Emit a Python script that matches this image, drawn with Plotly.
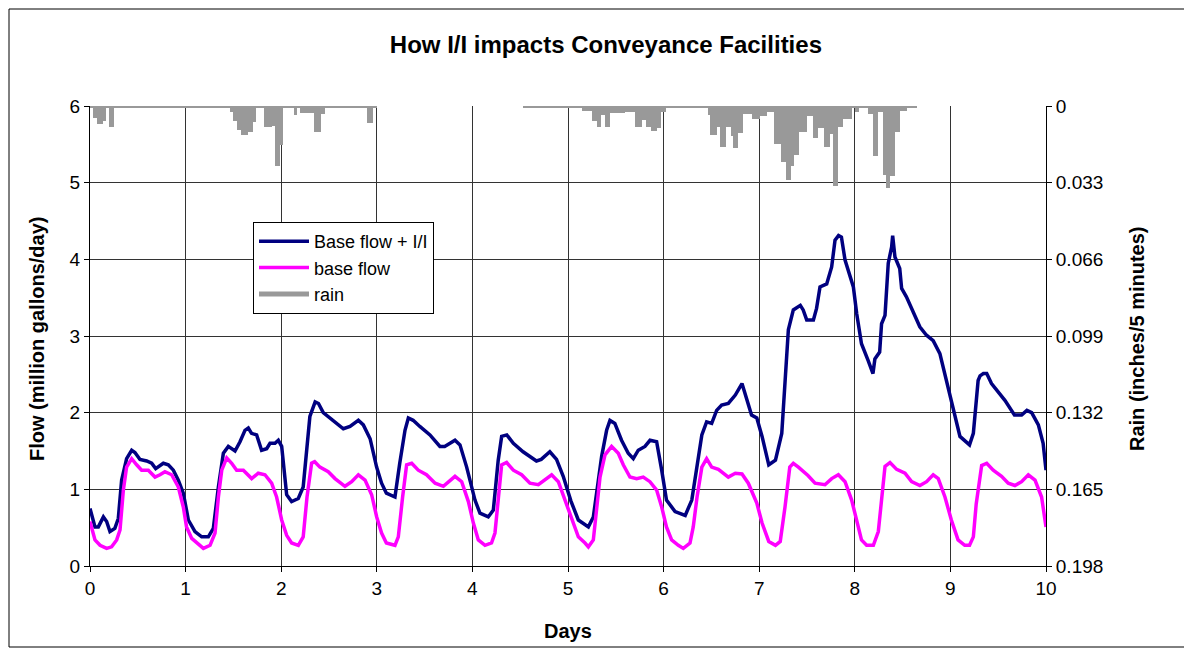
import plotly.graph_objects as go

# ---------------- data ----------------
flow_day = [0.0, 0.052, 0.087, 0.14, 0.174, 0.209, 0.26, 0.296, 0.331, 0.383, 0.436, 0.47, 0.523, 0.593, 0.645,
            0.687, 0.767, 0.819, 0.872, 0.924, 0.976, 1.029, 1.098, 1.168, 1.238, 1.29, 1.343, 1.395, 1.447, 1.517,
            1.569, 1.621, 1.656, 1.69, 1.743, 1.795, 1.848, 1.883, 1.935, 1.97, 2.005, 2.04, 2.057, 2.109, 2.179,
            2.23, 2.27, 2.30, 2.355, 2.39, 2.44, 2.545, 2.65, 2.72, 2.807, 2.859, 2.93, 2.998, 3.05, 3.10, 3.19,
            3.24, 3.295, 3.33, 3.38, 3.45, 3.556, 3.66, 3.71, 3.818, 3.87, 3.94, 4.027, 4.079, 4.166, 4.219, 4.27,
            4.306, 4.36, 4.428, 4.53, 4.67, 4.72, 4.81, 4.88, 4.95, 5.03, 5.108, 5.213, 5.265, 5.317, 5.352, 5.404,
            5.439, 5.49, 5.56, 5.63, 5.683, 5.735, 5.805, 5.858, 5.927, 5.98, 6.03, 6.12, 6.226, 6.295, 6.35, 6.40,
            6.45, 6.503, 6.555, 6.607, 6.677, 6.75, 6.82, 6.87, 6.92, 6.975, 7.03, 7.1, 7.17, 7.236, 7.27, 7.305,
            7.357, 7.43, 7.46, 7.497, 7.567, 7.60, 7.636, 7.706, 7.758, 7.793, 7.83, 7.86, 7.898, 7.985, 8.02, 8.07,
            8.14, 8.19, 8.21, 8.26, 8.28, 8.316, 8.35, 8.385, 8.396, 8.42, 8.47, 8.49, 8.54, 8.68, 8.75, 8.82, 8.89,
            8.96, 9.05, 9.1, 9.2, 9.24, 9.29, 9.31, 9.345, 9.38, 9.43, 9.57, 9.67, 9.745, 9.8, 9.85, 9.92, 9.97, 10.0]
flow_total = [0.75, 0.51, 0.51, 0.64, 0.58, 0.45, 0.49, 0.62, 1.12, 1.40, 1.51, 1.48, 1.39, 1.37, 1.34,
              1.27, 1.34, 1.32, 1.25, 1.12, 0.95, 0.60, 0.45, 0.38, 0.38, 0.49, 1.03, 1.47, 1.56, 1.50,
              1.62, 1.77, 1.80, 1.73, 1.71, 1.51, 1.53, 1.60, 1.60, 1.64, 1.56, 1.12, 0.93, 0.84, 0.88,
              1.03, 1.56, 1.95, 2.14, 2.12, 2.00, 1.90, 1.79, 1.82, 1.90, 1.84, 1.66, 1.29, 1.08, 0.95, 0.90,
              1.34, 1.77, 1.93, 1.90, 1.82, 1.71, 1.56, 1.56, 1.64, 1.58, 1.29, 0.86, 0.69, 0.64, 0.73, 1.38,
              1.69, 1.71, 1.60, 1.49, 1.37, 1.39, 1.49, 1.39, 1.17, 0.85, 0.60, 0.51, 0.64, 1.08, 1.43, 1.77,
              1.90, 1.86, 1.64, 1.47, 1.40, 1.51, 1.56, 1.64, 1.62, 1.25, 0.86, 0.71, 0.66, 0.86, 1.30, 1.71,
              1.88, 1.86, 2.03, 2.10, 2.12, 2.23, 2.38, 2.16, 1.97, 1.93, 1.69, 1.32, 1.38, 1.73, 2.42, 3.08,
              3.34, 3.40, 3.34, 3.21, 3.21, 3.36, 3.64, 3.68, 3.90, 4.25, 4.31, 4.29, 3.99, 3.64, 3.29, 2.90,
              2.68, 2.51, 2.70, 2.79, 3.16, 3.27, 3.95, 4.16, 4.31, 4.03, 3.88, 3.62, 3.51, 3.12, 3.01, 2.94, 2.77,
              2.42, 1.94, 1.69, 1.58, 1.73, 2.42, 2.48, 2.51, 2.51, 2.38, 2.16, 1.97, 1.97, 2.03, 2.00, 1.84, 1.60, 1.25]

base_day = [0.0, 0.052, 0.105, 0.174, 0.226, 0.279, 0.314, 0.349, 0.383, 0.436, 0.488, 0.54, 0.61, 0.68, 0.732,
            0.784, 0.854, 0.924, 0.976, 1.01, 1.064, 1.116, 1.186, 1.256, 1.308, 1.343, 1.378, 1.43, 1.482, 1.534,
            1.604, 1.691, 1.76, 1.83, 1.9, 1.952, 2.005, 2.057, 2.109, 2.179, 2.23, 2.27, 2.318, 2.35, 2.405,
            2.492, 2.563, 2.667, 2.737, 2.807, 2.877, 2.946, 2.999, 3.05, 3.10, 3.19, 3.225, 3.27, 3.312, 3.365,
            3.434, 3.52, 3.61, 3.696, 3.748, 3.818, 3.888, 3.958, 4.01, 4.062, 4.132, 4.2, 4.236, 4.27, 4.306,
            4.358, 4.428, 4.515, 4.602, 4.69, 4.76, 4.829, 4.899, 4.97, 5.038, 5.108, 5.178, 5.213, 5.265, 5.30,
            5.335, 5.387, 5.456, 5.526, 5.578, 5.648, 5.718, 5.787, 5.857, 5.927, 5.98, 6.03, 6.084, 6.154, 6.206,
            6.276, 6.31, 6.35, 6.40, 6.45, 6.503, 6.573, 6.677, 6.75, 6.82, 6.886, 6.975, 7.03, 7.10, 7.17, 7.22,
            7.27, 7.32, 7.357, 7.41, 7.51, 7.584, 7.688, 7.758, 7.828, 7.898, 7.967, 8.02, 8.07, 8.124, 8.194,
            8.246, 8.28, 8.316, 8.368, 8.438, 8.525, 8.594, 8.681, 8.751, 8.82, 8.873, 8.943, 9.01, 9.08, 9.15,
            9.2, 9.24, 9.27, 9.327, 9.38, 9.448, 9.535, 9.605, 9.675, 9.745, 9.815, 9.885, 9.954, 10.0]
base_flow = [0.58, 0.34, 0.27, 0.23, 0.25, 0.34, 0.47, 0.99, 1.29, 1.40, 1.32, 1.25, 1.25, 1.16, 1.19,
             1.23, 1.19, 1.03, 0.77, 0.51, 0.36, 0.30, 0.23, 0.27, 0.43, 0.90, 1.25, 1.41, 1.34, 1.25,
             1.25, 1.14, 1.21, 1.19, 1.08, 0.90, 0.60, 0.40, 0.30, 0.27, 0.38, 0.90, 1.34, 1.36, 1.29,
             1.23, 1.14, 1.04, 1.10, 1.19, 1.12, 0.93, 0.64, 0.43, 0.30, 0.27, 0.38, 0.90, 1.32, 1.34,
             1.25, 1.19, 1.08, 1.04, 1.10, 1.17, 1.10, 0.84, 0.56, 0.34, 0.27, 0.30, 0.43, 0.90, 1.32,
             1.35, 1.25, 1.19, 1.08, 1.06, 1.13, 1.19, 1.10, 0.86, 0.60, 0.38, 0.30, 0.25, 0.34, 0.73,
             1.16, 1.45, 1.56, 1.47, 1.32, 1.16, 1.14, 1.16, 1.10, 0.99, 0.77, 0.51, 0.34, 0.27, 0.23,
             0.30, 0.51, 0.90, 1.29, 1.40, 1.29, 1.26, 1.16, 1.21, 1.20, 1.08, 0.82, 0.56, 0.32, 0.27, 0.32,
             0.77, 1.29, 1.34, 1.29, 1.18, 1.08, 1.06, 1.14, 1.19, 1.10, 0.86, 0.60, 0.34, 0.27, 0.27,
             0.45, 0.86, 1.30, 1.35, 1.26, 1.21, 1.10, 1.05, 1.10, 1.19, 1.14, 0.90, 0.60, 0.34, 0.27,
             0.27, 0.38, 0.81, 1.31, 1.34, 1.25, 1.17, 1.08, 1.05, 1.10, 1.19, 1.12, 0.90, 0.51]

# rain intervals (start day, end day, inches per 5 minutes)
rain_start = [0.0, 4.53, 0.03, 0.07, 0.14, 0.20, 1.46, 1.50, 1.54, 1.58, 1.65, 1.70, 1.82, 1.90, 1.94, 1.99,
              2.13, 2.20, 2.34, 2.42, 2.90, 5.15, 5.25, 5.30, 5.35, 5.39, 5.44, 5.52, 5.60, 5.70, 5.77, 5.82,
              5.87, 5.93, 5.97, 6.47, 6.49, 6.56, 6.59, 6.65, 6.71, 6.73, 6.78, 6.83, 6.92, 7.01, 7.08, 7.15,
              7.23, 7.28, 7.33, 7.36, 7.42, 7.50, 7.56, 7.62, 7.68, 7.74, 7.77, 7.82, 7.88, 8.00, 8.14, 8.19,
              8.24, 8.30, 8.33, 8.37, 8.42, 8.47]
rain_end = [3.0, 8.65, 0.07, 0.14, 0.17, 0.25, 1.50, 1.54, 1.58, 1.65, 1.70, 1.74, 1.90, 1.94, 1.99, 2.02,
            2.16, 2.34, 2.42, 2.46, 2.96, 5.25, 5.30, 5.35, 5.39, 5.44, 5.52, 5.60, 5.70, 5.77, 5.82, 5.87,
            5.93, 5.97, 6.03, 6.49, 6.56, 6.59, 6.65, 6.71, 6.73, 6.78, 6.83, 6.92, 7.01, 7.08, 7.15, 7.23,
            7.28, 7.33, 7.36, 7.42, 7.50, 7.56, 7.62, 7.68, 7.74, 7.77, 7.82, 7.88, 7.97, 8.04, 8.19, 8.24,
            8.30, 8.33, 8.37, 8.42, 8.47, 8.55]
rain_in = [0.0006, 0.0006, 0.0053, 0.0077, 0.0066, 0.0089, 0.0025, 0.0066, 0.0105, 0.0125, 0.0110, 0.0070,
           0.0089, 0.0085, 0.0260, 0.0170, 0.0040, 0.0030, 0.0110, 0.0035, 0.0075, 0.0020, 0.0065, 0.0089,
           0.0040, 0.0089, 0.0030, 0.0030, 0.0025, 0.0089, 0.0060, 0.0089, 0.0108, 0.0095, 0.0025, 0.0040,
           0.0125, 0.0089, 0.0175, 0.0089, 0.0130, 0.0180, 0.0115, 0.0035, 0.0055, 0.0045, 0.0025, 0.0165,
           0.0240, 0.0320, 0.0260, 0.0210, 0.0110, 0.0045, 0.0138, 0.0095, 0.0175, 0.0120, 0.0343, 0.0089,
           0.0055, 0.0025, 0.0035, 0.0215, 0.0025, 0.0297, 0.0351, 0.0300, 0.0110, 0.0020]

rain_ticks = [0, 0.033, 0.066, 0.099, 0.132, 0.165, 0.198]
rain_tick_labels = ["0", "0.033", "0.066", "0.099", "0.132", "0.165", "0.198"]

# ---------------- figure ----------------
FONT = "Liberation Sans, Arial, sans-serif"
rain_mid = [(a + b) / 2 for a, b in zip(rain_start, rain_end)]
rain_w = [b - a for a, b in zip(rain_start, rain_end)]

fig = go.Figure()
fig.add_trace(go.Bar(x=rain_mid, y=rain_in, width=rain_w, yaxis="y2", name="rain",
                     marker=dict(color="#999999", line=dict(width=0)), showlegend=False))
fig.add_trace(go.Scatter(x=flow_day, y=flow_total, mode="lines", name="Base flow + I/I",
                         line=dict(color="#000080", width=3.5)))
fig.add_trace(go.Scatter(x=base_day, y=base_flow, mode="lines", name="base flow",
                         line=dict(color="#FF00FF", width=3.5)))
fig.add_trace(go.Scatter(x=[None], y=[None], mode="lines", name="rain",
                         line=dict(color="#999999", width=5)))

axis_common = dict(showline=True, linecolor="black", linewidth=1, ticks="outside", ticklen=5,
                   tickcolor="black", tickfont=dict(family=FONT, size=19, color="black"), zeroline=False)

# page body has an 8px default margin, so the figure is sized/offset to compensate
fig.update_layout(
    width=1184, height=646,
    margin=dict(l=82, r=146, t=98, b=88),
    paper_bgcolor="white", plot_bgcolor="white",
    font=dict(family=FONT, size=18, color="black"),
    title=dict(text="<b>How I/I impacts Conveyance Facilities</b>", x=0.505, xref="container",
               xanchor="center", y=1 - 37 / 646, yref="container", yanchor="middle",
               font=dict(family=FONT, size=24, color="black")),
    xaxis=dict(range=[0, 10], dtick=1, tick0=0, showgrid=True, gridcolor="#333333", gridwidth=1,
               **axis_common),
    yaxis=dict(range=[0, 6], dtick=1, tick0=0, showgrid=True, gridcolor="#333333", gridwidth=1,
               **axis_common),
    yaxis2=dict(overlaying="y", side="right", range=[0.198, 0], tickvals=rain_ticks,
                ticktext=rain_tick_labels, showgrid=False, **axis_common),
    bargap=0,
    legend=dict(x=(253 - 90) / 956, y=(566 - 222) / 460, xanchor="left", yanchor="top", bgcolor="white",
                bordercolor="black", borderwidth=1, itemwidth=50, tracegroupgap=0,
                font=dict(family=FONT, size=18, color="black")),
    showlegend=True,
)

fig.add_annotation(text="<b>Flow (million gallons/day)</b>", xref="paper", yref="paper",
                   x=(37 - 90) / 956, y=(566 - 339) / 460, textangle=-90, showarrow=False,
                   font=dict(family=FONT, size=20, color="black"), xanchor="center", yanchor="middle")
fig.add_annotation(text="<b>Rain (inches/5 minutes)</b>", xref="paper", yref="paper",
                   x=(1137 - 90) / 956, y=(566 - 339) / 460, textangle=-90, showarrow=False,
                   font=dict(family=FONT, size=20, color="black"), xanchor="center", yanchor="middle")
fig.add_annotation(text="<b>Days</b>", xref="paper", yref="paper",
                   x=0.5, y=(566 - 631) / 460, showarrow=False,
                   font=dict(family=FONT, size=20, color="black"), xanchor="center", yanchor="middle")

fig.add_shape(type="rect", xref="paper", yref="paper",
              x0=(9 - 90) / 956, x1=(1185 - 90) / 956, y0=(566 - 647) / 460, y1=(566 - 9) / 460,
              line=dict(color="black", width=1), fillcolor="rgba(0,0,0,0)", layer="below")

fig.write_html("out.html")
